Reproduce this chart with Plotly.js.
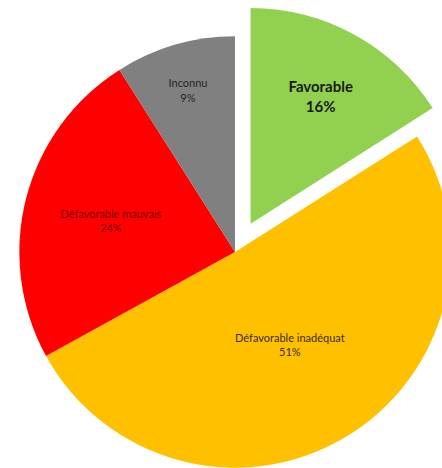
<!DOCTYPE html>
<html>
<head>
<meta charset="utf-8">
<script src="https://cdn.plot.ly/plotly-3.0.1.min.js"></script>
<style>
html,body{margin:0;padding:0;width:442px;height:468px;overflow:hidden;background:#fff;}
#chart{position:absolute;left:-13px;top:4px;width:496px;height:496px;}
</style>
</head>
<body>
<div id="chart"></div>
<script>
const labels = ["Favorable", "Défavorable inadéquat", "Défavorable mauvais", "Inconnu"];
const values = [16, 51, 24, 9];
const colors = ["#92D050", "#FFC000", "#FF0000", "#808080"];
const pulls = [0.15, 0, 0, 0];
const textColors = ["#1a1a1a", "#3a2c00", "#7a0000", "#262626"];
const textSizes = [15, 11, 11, 11];
const templates = [
  "<b>%{label}<br>%{percent:.0%}</b>",
  "%{label}<br>%{percent:.0%}",
  "%{label}<br>%{percent:.0%}",
  "%{label}<br>%{percent:.0%}"
];

Plotly.newPlot("chart", [{
  type: "pie",
  labels: labels,
  values: values,
  sort: false,
  direction: "clockwise",
  rotation: 0,
  pull: pulls,
  marker: {colors: colors, line: {width: 0}},
  texttemplate: templates,
  textposition: "inside",
  insidetextorientation: "horizontal",
  textfont: {family: "Lato, 'Open Sans', sans-serif", size: textSizes, color: textColors},
  hoverinfo: "none",
  showlegend: false,
  domain: {x: [0, 1], y: [0, 1]}
}], {
  width: 496,
  height: 496,
  margin: {l: 0, r: 0, t: 0, b: 0},
  paper_bgcolor: "#ffffff",
  showlegend: false
}, {displayModeBar: false, staticPlot: true});
</script>
</body>
</html>
